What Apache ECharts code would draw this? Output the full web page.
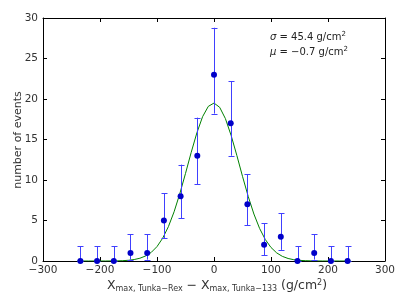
<!DOCTYPE html>
<html>
<head>
<meta charset="utf-8">
<script src="https://cdn.jsdelivr.net/npm/echarts@6/dist/echarts.min.js"></script>
<style>
html,body{margin:0;padding:0;background:#fff;}
#c{width:407px;height:305px;}
</style>
</head>
<body>
<div id="c"></div>
<script>
// Bin centres (g/cm^2) and event counts
var binCenters = [-234.4, -205.1, -175.8, -146.5, -117.2, -87.9, -58.6, -29.3, 0, 29.3, 58.6, 87.9, 117.2, 146.5, 175.8, 205.1, 234.4];
var counts     = [0, 0, 0, 1, 1, 5, 8, 13, 23, 17, 7, 2, 3, 0, 1, 0, 0];
var errLow     = [0, 0, 0, 0.17, 0.17, 2.84, 5.3, 9.5, 18.2, 13.0, 4.4, 0.71, 1.37, 0, 0.17, 0, 0];
var errHigh    = [1.84, 1.84, 1.84, 3.3, 3.3, 8.38, 11.9, 17.7, 28.8, 22.2, 10.7, 4.64, 5.92, 1.84, 3.3, 1.84, 1.84];

// Gaussian fit curve
var fitX = [-240,-230,-220,-210,-200,-190,-180,-170,-160,-150,-140,-130,-120,-110,-100,-90,-80,-70,-60,-50,-40,-30,-20,-10,0,10,20,30,40,50,60,70,80,90,100,110,120,130,140,150,160,170,180,190,200,210,220,230,240];
var fitY = [0,0,0,0,0,0,0.01,0.02,0.04,0.09,0.18,0.34,0.62,1.07,1.78,2.82,4.24,6.08,8.31,10.81,13.41,15.83,17.82,19.09,19.5,18.97,17.58,15.51,13.05,10.45,7.98,5.80,4.02,2.65,1.67,1.00,0.57,0.31,0.16,0.08,0.04,0.02,0.01,0,0,0,0,0,0];

var xTicks = [-300, -200, -100, 0, 100, 200, 300];
var yTicks = [0, 5, 10, 15, 20, 25, 30];

var chart = echarts.init(document.getElementById('c'), null, {renderer: 'canvas'});
var FONT = 'DejaVu Sans';
var pts = binCenters.map(function (x, i) { return [x, counts[i]]; });
var errs = binCenters.map(function (x, i) { return [x, errLow[i], errHigh[i]]; });
var fit = fitX.map(function (x, i) { return [x, fitY[i]]; });

function minus(v) { return String(v).replace('-', '\u2212'); }

var axisLine = {show: true, onZero: false, lineStyle: {color: '#000', width: 1}};
var axisTick = {show: true, inside: true, length: 4, lineStyle: {color: '#000', width: 1}};

chart.setOption({
  animation: false,
  backgroundColor: '#fff',
  grid: {left: 43, right: 22, top: 18, bottom: 44, show: false},
  xAxis: [{
    type: 'value', min: xTicks[0], max: xTicks[xTicks.length - 1], interval: 100,
    position: 'bottom', axisLine: axisLine, axisTick: axisTick, splitLine: {show: false},
    axisLabel: {fontFamily: FONT, fontSize: 10.5, color: '#333', margin: 4, formatter: minus}
  }, {
    type: 'value', min: xTicks[0], max: xTicks[xTicks.length - 1], interval: 100,
    position: 'top', axisLine: axisLine, axisTick: axisTick, splitLine: {show: false},
    axisLabel: {show: false}
  }],
  yAxis: [{
    type: 'value', min: yTicks[0], max: yTicks[yTicks.length - 1], interval: 5,
    position: 'left', axisLine: axisLine, axisTick: axisTick, splitLine: {show: false},
    axisLabel: {fontFamily: FONT, fontSize: 10.5, color: '#333', margin: 5}
  }, {
    type: 'value', min: yTicks[0], max: yTicks[yTicks.length - 1], interval: 5,
    position: 'right', axisLine: axisLine, axisTick: axisTick, splitLine: {show: false},
    axisLabel: {show: false}
  }],
  series: [{
    type: 'line', data: fit, showSymbol: false, symbol: 'none', smooth: false,
    lineStyle: {color: '#008000', width: 1}, z: 2
  }, {
    type: 'custom', data: errs, z: 3,
    renderItem: function (params, api) {
      var x = api.value(0);
      var lo = api.coord([x, api.value(1)]);
      var hi = api.coord([x, api.value(2)]);
      var cx = Math.round(lo[0]) + 0.5;
      var st = {stroke: '#4040ff', lineWidth: 1};
      return {type: 'group', children: [
        {type: 'line', shape: {x1: cx, y1: lo[1], x2: cx, y2: hi[1]}, style: st},
        {type: 'line', shape: {x1: cx - 3, y1: Math.round(hi[1]) + 0.5, x2: cx + 3, y2: Math.round(hi[1]) + 0.5}, style: st},
        {type: 'line', shape: {x1: cx - 3, y1: Math.round(lo[1]) + 0.5, x2: cx + 3, y2: Math.round(lo[1]) + 0.5}, style: st}
      ]};
    }
  }, {
    type: 'scatter', data: pts, symbol: 'circle', symbolSize: 6, z: 4,
    itemStyle: {color: '#0000c8', opacity: 1}
  }],
  graphic: [{
    type: 'text', left: 270, top: 31, z: 10,
    style: {
      text: '{i|\u03c3} = 45.4 g/cm{s|2}',
      fontFamily: FONT, fontSize: 10, fill: '#222',
      rich: {i: {fontStyle: 'italic', fontFamily: FONT, fontSize: 10}, s: {fontSize: 7, fontFamily: FONT, padding: [0, 0, 6, 0]}}
    }
  }, {
    type: 'text', left: 270, top: 46, z: 10,
    style: {
      text: '{i|\u03bc} = \u22120.7 g/cm{s|2}',
      fontFamily: FONT, fontSize: 10, fill: '#222',
      rich: {i: {fontStyle: 'italic', fontFamily: FONT, fontSize: 10}, s: {fontSize: 7, fontFamily: FONT, padding: [0, 0, 6, 0]}}
    }
  }, {
    type: 'text', x: 18, y: 140, rotation: Math.PI / 2, z: 10,
    style: {text: 'number of events', fontFamily: FONT, fontSize: 11, fill: '#333', align: 'center', verticalAlign: 'middle'}
  }, {
    type: 'text', x: 217, y: 286, z: 10,
    style: {
      text: '{b|X}{sub|max, Tunka\u2212Rex} {b|\u2212 X}{sub|max, Tunka\u2212133} {b|(g/cm}{sup|2}{b|)}',
      align: 'center', verticalAlign: 'middle', fill: '#333', fontFamily: FONT,
      rich: {
        b: {fontSize: 12.5, fontFamily: FONT, fill: '#333'},
        sub: {fontSize: 8, fontFamily: FONT, fill: '#333', padding: [6, 0, 0, 0]},
        sup: {fontSize: 8, fontFamily: FONT, fill: '#333', padding: [0, 0, 6, 0]}
      }
    }
  }]
});
</script>
</body>
</html>
